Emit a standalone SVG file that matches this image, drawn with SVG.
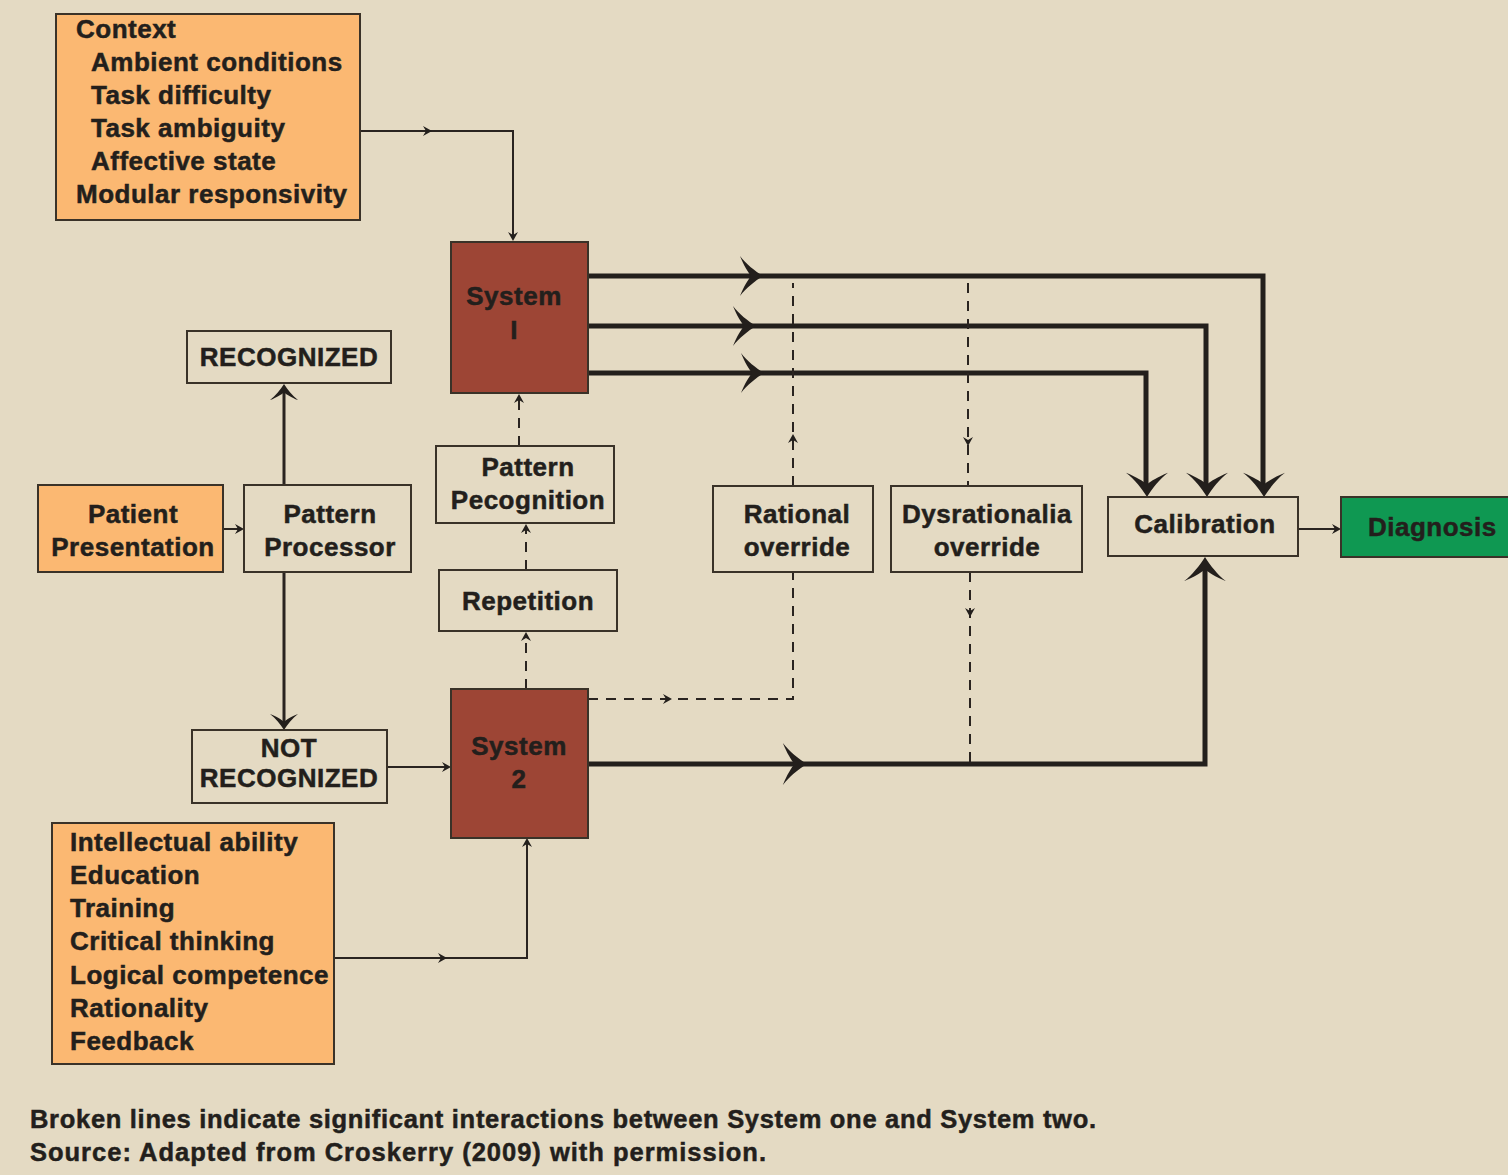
<svg xmlns="http://www.w3.org/2000/svg" xmlns:xlink="http://www.w3.org/1999/xlink" width="1508" height="1175" viewBox="0 0 1508 1175">
<style>
.box{stroke:#3a3228;stroke-width:2}
.plain{fill:#E4DAC3}
.orange{fill:#FBB872}
.red{fill:#9D4535}
.green{fill:#0F9852}
text{font-family:"Liberation Sans",Arial,sans-serif;font-weight:bold;font-size:26px;fill:#231F1C;stroke:#231F1C;stroke-width:0.5;letter-spacing:0.5px}
.c{text-anchor:middle}
.foot{font-size:25.5px;letter-spacing:0}
.thin{fill:none;stroke:#2a2420;stroke-width:2}
.thick{fill:none;stroke:#231F1C;stroke-width:5}
.dash{fill:none;stroke:#2a2420;stroke-width:2;stroke-dasharray:10 8}
.head{fill:#231F1C}
</style>
<defs>
<path id="bh" d="M0,0 C-8,-5 -17,-12 -23,-20 C-19,-10 -15,-4 -12,0 C-15,4 -19,10 -23,20 C-17,12 -8,5 0,0 Z"/>
<path id="sh" d="M0,0 L-9,-5 L-6,0 L-9,5 Z"/>
</defs>
<rect x="0" y="0" width="1508" height="1175" fill="#E4DAC3"/>

<g id="connectors">
  <path class="thin" d="M360,131 H513 V236"/>
  <use href="#sh" class="head" transform="translate(432,131)"/>
  <use href="#sh" class="head" transform="translate(513,241) rotate(90)"/>

  <path class="thick" d="M588,276 H1263 V488"/>
  <path class="thick" d="M588,326 H1206 V488"/>
  <path class="thick" d="M588,373 H1146 V488"/>
  <use href="#bh" class="head" transform="translate(763,276)"/>
  <use href="#bh" class="head" transform="translate(756,326)"/>
  <use href="#bh" class="head" transform="translate(764,373)"/>
  <use href="#bh" class="head" transform="translate(1264,497) rotate(90) scale(1.05)"/>
  <use href="#bh" class="head" transform="translate(1207,497) rotate(90) scale(1.05)"/>
  <use href="#bh" class="head" transform="translate(1147,497) rotate(90) scale(1.05)"/>

  <path class="thick" d="M588,764 H1205 V566"/>
  <use href="#bh" class="head" transform="translate(807,764) scale(1.05)"/>
  <use href="#bh" class="head" transform="translate(1205,557) rotate(-90) scale(1.05)"/>

  <path class="thin" d="M1299,529 H1338"/>
  <use href="#sh" class="head" transform="translate(1341,529)"/>

  <path class="thin" d="M223,529 H241"/>
  <use href="#sh" class="head" transform="translate(244,529)"/>

  <path class="thin" style="stroke-width:3" d="M284,485 V392"/>
  <use href="#bh" class="head" transform="translate(284,384) rotate(-90) scale(0.7)"/>
  <path class="thin" style="stroke-width:3" d="M284,572 V722"/>
  <use href="#bh" class="head" transform="translate(284,730) rotate(90) scale(0.7)"/>

  <path class="thin" d="M387,767 H448"/>
  <use href="#sh" class="head" transform="translate(451,767)"/>

  <path class="thin" d="M334,958 H527 V841"/>
  <use href="#sh" class="head" transform="translate(447,958)"/>
  <use href="#sh" class="head" transform="translate(527,838) rotate(-90)"/>

  <path class="dash" d="M526,689 V636"/>
  <use href="#sh" class="head" transform="translate(526,632) rotate(-90)"/>
  <path class="dash" d="M526,570 V528"/>
  <use href="#sh" class="head" transform="translate(526,524) rotate(-90)"/>
  <path class="dash" d="M519,446 V398"/>
  <use href="#sh" class="head" transform="translate(519,394) rotate(-90)"/>

  <path class="dash" d="M588,699 H793 V572"/>
  <use href="#sh" class="head" transform="translate(672,699)"/>
  <path class="dash" d="M793,486 V283"/>
  <use href="#sh" class="head" transform="translate(793,434) rotate(-90)"/>

  <path class="dash" d="M968,283 V486"/>
  <use href="#sh" class="head" transform="translate(968,446) rotate(90)"/>
  <path class="dash" d="M970,572 V764"/>
  <use href="#sh" class="head" transform="translate(970,617) rotate(90)"/>
</g>

<g id="context">
  <rect class="box orange" x="56" y="14" width="304" height="206"/>
  <text x="76" y="38">Context</text>
  <text x="91" y="71">Ambient conditions</text>
  <text x="91" y="104">Task difficulty</text>
  <text x="91" y="137">Task ambiguity</text>
  <text x="91" y="170">Affective state</text>
  <text x="76" y="203">Modular responsivity</text>
</g>

<g id="system1">
  <rect class="box red" x="451" y="242" width="137" height="151"/>
  <text class="c" x="514" y="305">System</text>
  <text class="c" x="514" y="339">I</text>
</g>

<g id="recognized">
  <rect class="box plain" x="187" y="331" width="204" height="52"/>
  <text class="c" x="289" y="366">RECOGNIZED</text>
</g>

<g id="patient">
  <rect class="box orange" x="38" y="485" width="185" height="87"/>
  <text class="c" x="133" y="523">Patient</text>
  <text class="c" x="133" y="556">Presentation</text>
</g>

<g id="processor">
  <rect class="box plain" x="244" y="485" width="167" height="87"/>
  <text class="c" x="330" y="523">Pattern</text>
  <text class="c" x="330" y="556">Processor</text>
</g>

<g id="pecognition">
  <rect class="box plain" x="436" y="446" width="178" height="77"/>
  <text class="c" x="528" y="476">Pattern</text>
  <text class="c" x="528" y="509">Pecognition</text>
</g>

<g id="repetition">
  <rect class="box plain" x="439" y="570" width="178" height="61"/>
  <text class="c" x="528" y="610">Repetition</text>
</g>

<g id="rational">
  <rect class="box plain" x="713" y="486" width="160" height="86"/>
  <text class="c" x="797" y="523">Rational</text>
  <text class="c" x="797" y="556">override</text>
</g>

<g id="dysrationalia">
  <rect class="box plain" x="891" y="486" width="191" height="86"/>
  <text class="c" x="987" y="523">Dysrationalia</text>
  <text class="c" x="987" y="556">override</text>
</g>

<g id="calibration">
  <rect class="box plain" x="1108" y="497" width="190" height="59"/>
  <text class="c" x="1205" y="533">Calibration</text>
</g>

<g id="diagnosis">
  <rect class="box green" x="1341" y="497" width="172" height="60"/>
  <text x="1368" y="536">Diagnosis</text>
</g>

<g id="notrecognized">
  <rect class="box plain" x="192" y="730" width="195" height="73"/>
  <text class="c" x="289" y="757">NOT</text>
  <text class="c" x="289" y="787">RECOGNIZED</text>
</g>

<g id="system2">
  <rect class="box red" x="451" y="689" width="137" height="149"/>
  <text class="c" x="519" y="755">System</text>
  <text class="c" x="519" y="788">2</text>
</g>

<g id="abilities">
  <rect class="box orange" x="52" y="823" width="282" height="241"/>
  <text x="70" y="851">Intellectual ability</text>
  <text x="70" y="884">Education</text>
  <text x="70" y="917">Training</text>
  <text x="70" y="950">Critical thinking</text>
  <text x="70" y="984">Logical competence</text>
  <text x="70" y="1017">Rationality</text>
  <text x="70" y="1050">Feedback</text>
</g>

<g id="footer">
  <text class="foot" x="30" y="1128" textLength="1066" lengthAdjust="spacing">Broken lines indicate significant interactions between System one and System two.</text>
  <text class="foot" x="30" y="1161" textLength="736" lengthAdjust="spacing">Source: Adapted from Croskerry (2009) with permission.</text>
</g>
</svg>
